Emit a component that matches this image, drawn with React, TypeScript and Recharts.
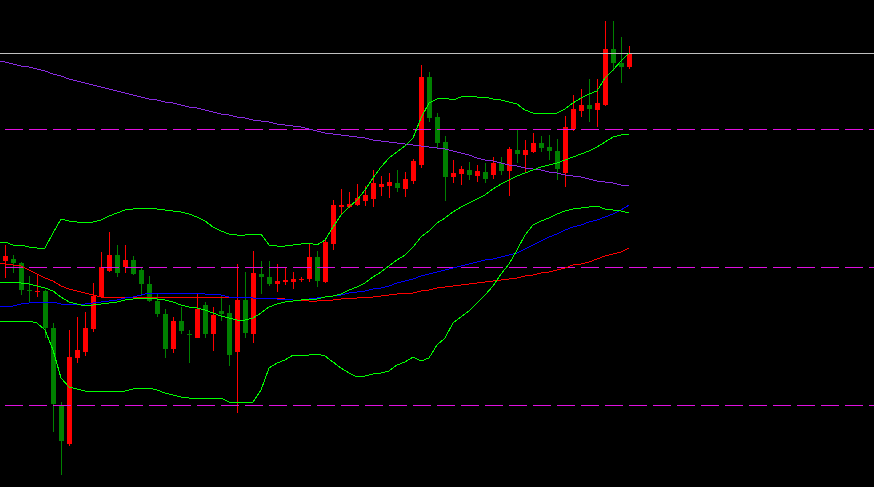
import React from 'react';
import { ComposedChart, Bar, Line, XAxis, YAxis, ReferenceLine } from 'recharts';

// price readings (chart units), one entry per candle, oldest first
const open = [
  226, 228, 224, 197, 195, 196, 159, 81, 43, 129,
  135, 158, 190, 216, 232, 220, 227, 217, 203, 186,
  173, 138, 166, 153, 149, 182, 153, 176, 174, 135,
  187, 153, 213, 210, 203, 205, 205, 207, 208, 230,
  205, 243, 280, 280, 282, 286, 288, 300, 301, 304,
  298, 306, 322, 410, 370, 345, 310, 313, 317, 311,
  315, 312, 324, 316, 337, 332, 335, 344, 340, 336,
  314, 358, 376, 382, 377, 382, 438, 424, 420,
];
const high = [
  242, 232, 225, 211, 213, 197, 164, 85, 157, 170,
  175, 204, 235, 255, 242, 242, 231, 220, 211, 194,
  178, 170, 180, 157, 194, 185, 180, 191, 182, 223,
  215, 236, 226, 226, 223, 219, 215, 210, 244, 236,
  249, 287, 298, 295, 303, 301, 317, 311, 314, 317,
  315, 328, 422, 415, 374, 351, 327, 321, 325, 322,
  324, 330, 330, 340, 357, 347, 354, 351, 352, 348,
  371, 392, 398, 408, 408, 466, 466, 450, 441,
];
const low = [
  209, 214, 192, 185, 190, 149, 55, 12, 41, 124,
  131, 155, 189, 215, 210, 214, 212, 191, 185, 170,
  129, 134, 153, 124, 149, 149, 136, 166, 121, 74,
  149, 144, 193, 201, 195, 202, 198, 205, 205, 200,
  204, 237, 272, 279, 281, 281, 280, 291, 289, 295,
  290, 303, 319, 365, 338, 286, 304, 302, 307, 305,
  304, 308, 312, 291, 324, 314, 334, 335, 327, 307,
  300, 356, 370, 365, 360, 381, 416, 404, 418,
];
const close = [
  231, 224, 197, 196, 196, 159, 83, 46, 130, 137,
  159, 191, 220, 232, 214, 227, 213, 203, 186, 173,
  138, 166, 156, 152, 178, 153, 172, 173, 132, 187,
  154, 214, 210, 203, 206, 207, 208, 208, 230, 206,
  245, 282, 282, 283, 289, 292, 304, 303, 305, 299,
  308, 326, 410, 369, 344, 310, 314, 318, 312, 316,
  308, 324, 316, 338, 333, 337, 344, 339, 336, 318,
  360, 378, 382, 378, 384, 438, 424, 420, 434,
];

// indicator lines start one bar earlier (bar cut off at the left edge)
// bollinger bands
const bbUpper = [
  245,
  245, 242, 242, 240, 239, 239, 254, 268, 266, 265,
  265, 265, 267, 271, 274, 277, 278, 279, 279, 278,
  277, 276, 275, 273, 270, 266, 260, 256, 253, 252,
  252, 253, 253, 242, 241, 241, 242, 243, 244, 242,
  247, 260, 272, 280, 287, 297, 309, 320, 329, 335,
  341, 349, 369, 384, 388, 389, 387, 390, 391, 390,
  390, 388, 387, 385, 383, 377, 374, 374, 374, 374,
  378, 384, 389, 393, 396, 409, 417, 426, 434,
];
const bbMiddle = [
  205,
  205, 205, 204, 203, 201, 199, 196, 190, 185, 183,
  181, 182, 183, 184, 185, 187, 188, 189, 189, 188,
  187, 185, 182, 180, 179, 177, 174, 171, 169, 167,
  167, 169, 174, 180, 183, 185, 186, 187, 188, 188,
  190, 191, 193, 197, 200, 204, 210, 215, 221, 227,
  232, 240, 250, 256, 264, 269, 275, 280, 284, 288,
  292, 298, 303, 307, 311, 314, 317, 320, 322, 324,
  327, 330, 333, 336, 340, 345, 350, 352, 353,
];
const bbLower = [
  166,
  166, 166, 166, 166, 164, 157, 137, 109, 100, 98,
  96, 96, 96, 96, 96, 96, 98, 99, 99, 97,
  94, 92, 90, 89, 88, 89, 89, 89, 85, 85,
  85, 85, 97, 119, 124, 127, 132, 132, 132, 133,
  131, 125, 119, 114, 110, 111, 113, 114, 116, 122,
  125, 130, 126, 129, 142, 149, 164, 170, 176, 184,
  192, 201, 213, 223, 237, 252, 262, 266, 269, 273,
  276, 278, 279, 280, 281, 278, 277, 276, 274,
];

// moving averages
const maRed = [
  224,
  223, 222, 221, 217, 213, 209, 206, 201, 198, 196,
  194, 192, 190, 190, 190, 190, 190, 190, 190, 190,
  190, 190, 190, 190, 190, 190, 190, 190, 190, 190,
  190, 189, 189, 189, 189, 188, 187, 187, 186, 186,
  187, 187, 188, 189, 189, 190, 190, 191, 192, 193,
  194, 194, 196, 197, 199, 200, 201, 202, 203, 204,
  205, 206, 207, 208, 209, 211, 212, 214, 215, 217,
  219, 222, 223, 225, 228, 231, 233, 235, 239,
];
const maBlue = [
  180,
  181, 181, 183, 184, 185, 185, 185, 183, 183, 183,
  183, 184, 185, 186, 187, 189, 190, 192, 194, 194,
  194, 194, 194, 194, 194, 193, 193, 192, 190, 190,
  190, 189, 189, 189, 188, 188, 187, 187, 188, 189,
  190, 191, 192, 194, 195, 196, 198, 199, 201, 204,
  206, 208, 211, 213, 215, 217, 219, 221, 223, 225,
  227, 228, 230, 232, 234, 238, 242, 246, 250, 253,
  257, 260, 262, 265, 267, 270, 273, 277, 282,
];
const maPurple = [
  426,
  425, 423, 421, 420, 418, 416, 413, 411, 408, 406,
  404, 402, 400, 398, 396, 394, 392, 390, 388, 387,
  385, 384, 382, 380, 379, 377, 375, 373, 372, 370,
  369, 367, 366, 365, 363, 362, 361, 360, 358, 356,
  354, 353, 352, 351, 350, 349, 347, 346, 345, 344,
  343, 342, 341, 340, 339, 338, 336, 334, 332, 329,
  327, 326, 324, 322, 321, 319, 318, 317, 315, 314,
  312, 311, 310, 308, 306, 305, 304, 302, 301,
];

// horizontal levels
const levels = [358, 220, 82];
const bidPrice = 434;

const data = bbUpper.map((u, k) => {
  const n = k - 1;
  const hasBar = n >= 0;
  return {
    i: n,
    open: hasBar ? open[n] : null,
    high: hasBar ? high[n] : null,
    low: hasBar ? low[n] : null,
    close: hasBar ? close[n] : null,
    range: hasBar ? [low[n], high[n]] : null,
    bbUpper: u,
    bbMiddle: bbMiddle[k],
    bbLower: bbLower[k],
    maRed: maRed[k],
    maBlue: maBlue[k],
    maPurple: maPurple[k],
  };
});

const UP = '#ff0000';
const DOWN = '#008000';

const Candle = (props: any) => {
  const { x, y, width, height, payload } = props;
  if (x == null || y == null || !payload || payload.open == null) return null;
  const { open: o, close: c, high: h, low: l } = payload;
  const color = c >= o ? UP : DOWN;
  const span = Math.abs(height);
  const top = Math.min(y, y + height);
  const k = h === l ? 0 : span / (h - l);
  const cx = Math.round(x + width / 2);
  const bodyTop = top + (h - Math.max(o, c)) * k;
  const bodyBottom = top + (h - Math.min(o, c)) * k;
  return (
    <g shapeRendering="crispEdges">
      <rect x={cx} y={Math.round(top)} width={1} height={Math.max(1, Math.round(span))} fill={color} />
      <rect
        x={cx - 2}
        y={Math.round(bodyTop)}
        width={5}
        height={Math.max(1, Math.round(bodyBottom - bodyTop))}
        fill={color}
      />
    </g>
  );
};

const lineProps = {
  type: 'linear' as const,
  dot: false,
  activeDot: false,
  strokeWidth: 1,
  isAnimationActive: false,
  shapeRendering: 'crispEdges',
};

export default function App() {
  return (
    <div style={{ position: 'fixed', left: 0, top: 0, width: 874, height: 487, background: '#000' }}>
      <ComposedChart width={874} height={487} data={data} margin={{ top: 0, right: 0, bottom: 0, left: 0 }}>
        <XAxis dataKey="i" type="number" domain={[-0.625, 108.625]} hide allowDataOverflow />
        <YAxis type="number" domain={[0, 487]} hide allowDataOverflow />
        <ReferenceLine y={bidPrice} stroke="#c0c0c0" strokeWidth={1} shapeRendering="crispEdges" />
        {levels.map((lv) => (
          <ReferenceLine
            key={lv}
            y={lv}
            stroke="#e010e0"
            strokeWidth={1}
            strokeDasharray="18 6"
            strokeDashoffset={19}
            shapeRendering="crispEdges"
          />
        ))}
        <Bar dataKey="range" barSize={5} shape={Candle} isAnimationActive={false} />
        <Line dataKey="maRed" stroke="#ff0000" {...lineProps} />
        <Line dataKey="maBlue" stroke="#0000ff" {...lineProps} />
        <Line dataKey="maPurple" stroke="#8a2be2" {...lineProps} />
        <Line dataKey="bbUpper" stroke="#00ff00" {...lineProps} />
        <Line dataKey="bbMiddle" stroke="#00ff00" {...lineProps} />
        <Line dataKey="bbLower" stroke="#00ff00" {...lineProps} />
      </ComposedChart>
    </div>
  );
}
